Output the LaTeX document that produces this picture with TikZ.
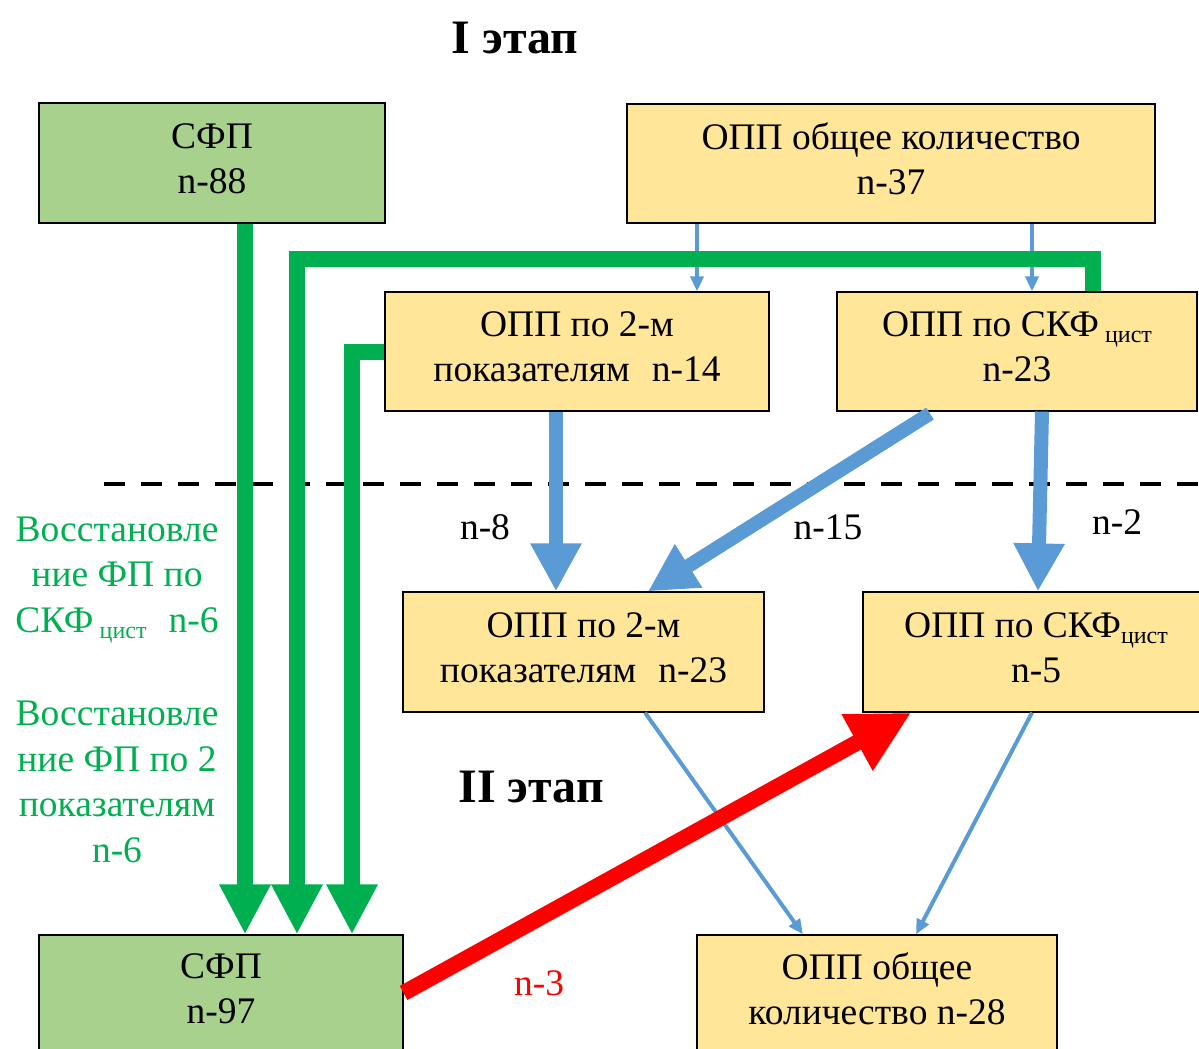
\documentclass[tikz,border=0pt]{standalone}
\usepackage{fontspec}
\setmainfont{Liberation Serif}
\usetikzlibrary{arrows.meta}
\definecolor{boxgreen}{HTML}{A9D18E}
\definecolor{boxyellow}{HTML}{FFE699}
\definecolor{lgreen}{HTML}{00B050}
\definecolor{lblue}{HTML}{5B9BD5}
\newcommand{\subc}[1]{{\fontsize{24}{24}\selectfont\raisebox{-6pt}{#1}}}
\begin{document}
\begin{tikzpicture}[x=1pt,y=-1pt,
  box/.style={draw=black, line width=1.2pt, inner sep=0pt},
  gbox/.style={box, fill=boxgreen},
  ybox/.style={box, fill=boxyellow},
  txt/.style={inner sep=0pt, align=center, font=\fontsize{37.5}{45}\selectfont},
  gtxt/.style={txt, text=lgreen, font=\fontsize{37.5}{45.5}\selectfont},
  title/.style={inner sep=0pt, font=\fontsize{48}{50}\selectfont\bfseries},
  greenarr/.style={draw=lgreen, line width=16pt, line join=miter, -{Triangle[width=48pt,length=50pt]}},
  bluethick/.style={draw=lblue, line width=14pt, -{Triangle[width=48pt,length=48pt]}},
  bluethin/.style={draw=lblue, line width=4pt, -{Triangle[width=13pt,length=15pt]}},
  redarr/.style={draw=red, line width=16pt, -{Triangle[width=60pt,length=62pt]}},
  divider/.style={draw=black, line width=4pt, dash pattern=on 21pt off 16pt}
]
\useasboundingbox (0,0) rectangle (1199,1049);

% dashed divider
\coordinate (d1) at (104,484);
\coordinate (d2) at (1199,484);
\draw[divider] (d1) -- (d2);

% titles
\node[title] (t1) at (515,38) {I этап};
\node[title] (t2) at (531,787) {II этап};

% boxes
\node[gbox, minimum width=346pt, minimum height=120pt] (sfp1) at (212,163) {};
\node[ybox, minimum width=528pt, minimum height=119pt] (opp1) at (891,163.5) {};
\node[ybox, minimum width=384pt, minimum height=119pt] (p2a) at (577,351.5) {};
\node[ybox, minimum width=360pt, minimum height=119pt] (skfa) at (1017,351.5) {};
\node[ybox, minimum width=361pt, minimum height=120pt] (p2b) at (583.5,652) {};
\node[ybox, minimum width=352pt, minimum height=120pt] (skfb) at (1039,652) {};
\node[gbox, minimum width=364pt, minimum height=130pt] (sfp2) at (221,1000) {};
\node[ybox, minimum width=360pt, minimum height=130pt] (opp2) at (877,1000) {};

% box texts
\node[txt] (sfp1t) at (212,158.5) {СФП\\n-88};
\node[txt] (opp1t) at (891,158.5) {ОПП общее количество\\n-37};
\node[txt] (p2at) at (577,346.5) {ОПП по 2-м\\показателям\hspace{22pt}n-14};
\node[txt] (skfat) at (1017,346.5) {ОПП по СКФ\,\subc{цист}\\n-23};
\node[txt] (p2bt) at (583.5,647.5) {ОПП по 2-м\\показателям\hspace{22pt}n-23};
\node[txt] (skfbt) at (1036,647.5) {ОПП по СКФ\subc{цист}\\n-5};
\node[txt] (sfp2t) at (221,988.5) {СФП\\n-97};
\node[txt] (opp2t) at (877,988.5) {ОПП общее\\количество n-28};

% side labels
\node[gtxt] (g1) at (117,580) {Восстановле\\ние ФП по\\СКФ\,\subc{цист}\hspace{22pt}n-6};
\node[gtxt] (g2) at (117,782) {Восстановле\\ние ФП по 2\\показателям\\n-6};

% count labels
\node[txt] (l8) at (485,527) {n-8};
\node[txt] (l15) at (828,527) {n-15};
\node[txt] (l2) at (1117,522) {n-2};
\node[txt, text=red] (l3) at (539,983) {n-3};

% blue arrows
\draw[bluethin] ([xshift=-194pt]opp1.south) -- ([xshift=120pt]p2a.north);
\draw[bluethin] ([xshift=141pt]opp1.south) -- ([xshift=15pt]skfa.north);
\draw[bluethick] ([xshift=-21pt]p2a.south) -- ([xshift=-27.5pt]p2b.north);
\draw[bluethick] ([xshift=-87pt,yshift=-2pt]skfa.south) -- ([xshift=64.5pt]p2b.north);
\draw[bluethick] ([xshift=25pt]skfa.south) -- ([xshift=-1pt]skfb.north);
\draw[bluethin] ([xshift=61.5pt]p2b.south) -- ([xshift=-74pt]opp2.north);
\draw[bluethin] ([xshift=-7pt]skfb.south) -- ([xshift=39pt]opp2.north);

% green arrows
\draw[greenarr] ([xshift=33pt]sfp1.south) -- ([xshift=24pt]sfp2.north);
\draw[greenarr] ([xshift=76pt]skfa.north) -- ++(0,-32) -| ([xshift=76pt]sfp2.north);
\draw[greenarr] (p2a.west) -| ([xshift=131pt]sfp2.north);

% red arrow
\draw[redarr] ([yshift=7pt]sfp2.east) -- ([xshift=49pt]skfb.south west);
\end{tikzpicture}
\end{document}
